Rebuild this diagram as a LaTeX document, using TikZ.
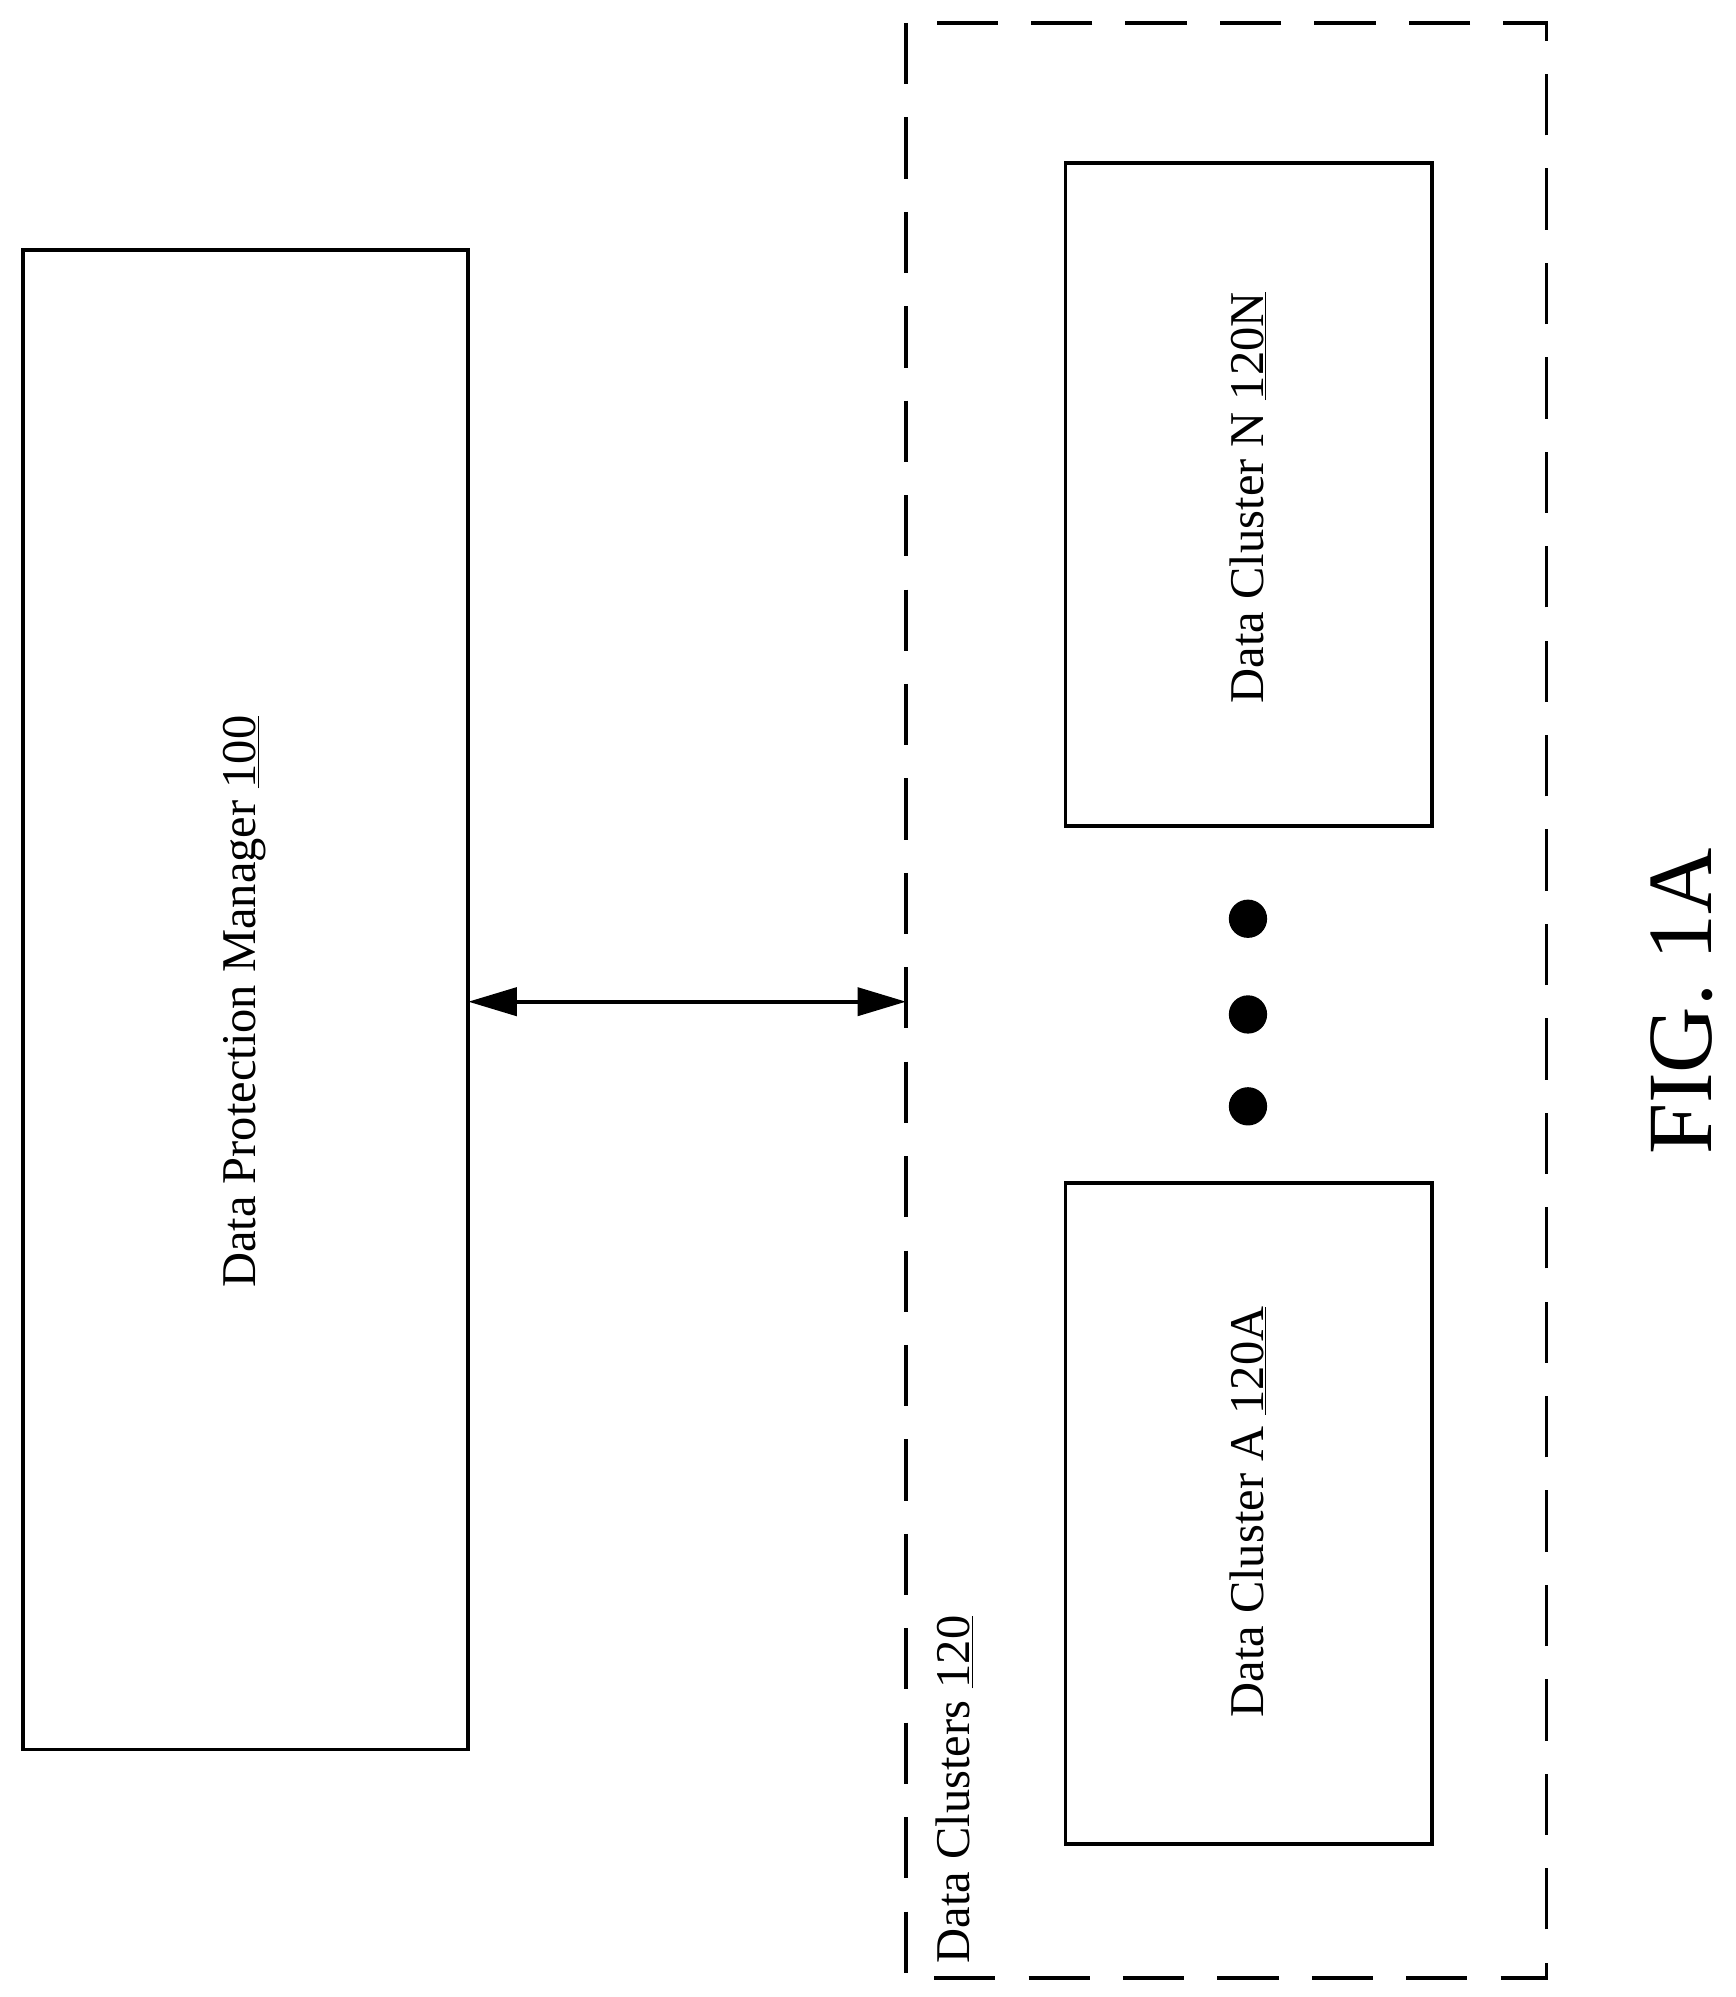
\documentclass[tikz,border=0pt]{standalone}
\usepackage{fontspec}
\setmainfont{Liberation Serif}
\usetikzlibrary{arrows.meta}
\begin{document}
\begin{tikzpicture}[x=1pt,y=-1pt,line width=3pt,
  box/.style={draw},
  lbl/.style={rotate=90,font=\fontsize{38}{44}\selectfont,inner sep=0pt}]
\useasboundingbox (0,0) rectangle (1360,1565);
\draw[box] (18,196) rectangle (367,1371);
\coordinate (dpmE) at (367,785);
\node[lbl] (dpm) at (192,785) {Data Protection Manager \underline{100}};
\draw[dash pattern=on 48pt off 26pt] (710,18) rectangle (1212,1550);
\coordinate (dcW) at (710,785);
\node[lbl,anchor=west] (dcl) at (748,1540) {Data Clusters \underline{120}};
\draw[box] (835,128) rectangle (1122,647);
\node[lbl] (n) at (978,390) {Data Cluster N \underline{120N}};
\draw[box] (835,927) rectangle (1122,1445);
\node[lbl] (a) at (978,1185) {Data Cluster A \underline{120A}};
\foreach \y/\n in {720/d1,795/d2,867/d3} \fill (978,\y) circle (15) coordinate (\n);
\draw[{Triangle[length=38pt,width=22pt]}-{Triangle[length=38pt,width=22pt]}] (dpmE) -- (dcW);
\node[rotate=90,font=\fontsize{72}{84}\selectfont,inner sep=0pt] (fig) at (1318,785) {FIG. 1A};
\end{tikzpicture}
\end{document}
